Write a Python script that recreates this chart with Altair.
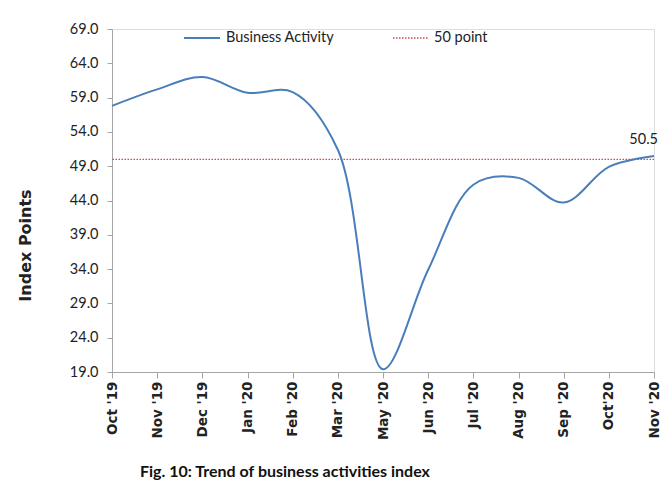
import altair as alt
import pandas as pd

months = ["Oct '19", "Nov '19", "Dec '19", "Jan '20", "Feb '20", "Mar '20",
          "May '20", "Jun '20", "Jul '20", "Aug '20", "Sep '20", "Oct'20", "Nov '20"]
activity = [57.8, 60.2, 62.0, 59.7, 59.8, 51.4, 19.4, 33.9, 46.3, 47.3, 43.7, 48.9, 50.5]
threshold = 50
y_ticks = [19, 24, 29, 34, 39, 44, 49, 54, 59, 64, 69]
series_name = "Business Activity"
threshold_name = "50 point"
caption = "Fig. 10: Trend of business activities index"

df = pd.DataFrame({"month": months, "value": activity})
df["order"] = range(len(df))

BLUE = "#4A7EBB"
RED = "#D04A4A"
CAL = "Lato"

x_scale = alt.Scale(type="point", padding=0)
x_axis = alt.Axis(title=None, labelAngle=-90, labelFont="DejaVu Sans",
                  labelFontWeight="bold", labelFontSize=13.5, labelColor="#222222",
                  tickSize=6, labelPadding=3, domainColor="#A6A6A6",
                  tickColor="#A6A6A6", grid=False, labelOverlap=False)
y_scale = alt.Scale(domain=[19, 69], nice=False, zero=False)
y_axis = alt.Axis(title="Index Points", values=y_ticks, format=".1f",
                  labelFont=CAL, labelFontSize=14.5, labelColor="#222222",
                  tickSize=5, labelPadding=9, domainColor="#A6A6A6",
                  tickColor="#A6A6A6", grid=False, labelOverlap=False,
                  titleFont="DejaVu Sans", titleFontSize=16, titleFontWeight="bold",
                  titleColor="#222222", titleX=-79, titleY=216,
                  titleBaseline="bottom", titleAngle=-90)

base = alt.Chart(df)

line = base.mark_line(color=BLUE, strokeWidth=2, interpolate="catmull-rom").encode(
    x=alt.X("month:N", sort=months, scale=x_scale, axis=x_axis),
    y=alt.Y("value:Q", scale=y_scale, axis=y_axis),
    order="order:Q")

thr = alt.Chart(pd.DataFrame({"value": [threshold]})).mark_rule(
    color=RED, strokeWidth=1.3, strokeDash=[1.5, 1.5]).encode(
    y=alt.Y("value:Q", scale=y_scale, axis=y_axis))

last = base.transform_filter(alt.datum.order == len(months) - 1).mark_text(
    align="right", baseline="middle", dy=-16, dx=4, font=CAL, fontSize=14.5,
    color="#222222").encode(
    x=alt.X("month:N", sort=months, scale=x_scale, axis=x_axis),
    y=alt.Y("value:Q", scale=y_scale, axis=y_axis),
    text=alt.Text("value:Q", format=".1f"))

leg = pd.DataFrame({"a": [0]})
leg_line1 = alt.Chart(leg).mark_rule(color=BLUE, strokeWidth=2).encode(
    x=alt.value(72), x2=alt.value(108), y=alt.value(9))
leg_text1 = alt.Chart(leg).mark_text(align="left", baseline="middle", font=CAL,
                                     fontSize=14.5, color="#222222", text=series_name).encode(
    x=alt.value(114), y=alt.value(9))
leg_line2 = alt.Chart(leg).mark_rule(color=RED, strokeWidth=1.3, strokeDash=[1.5, 1.5]).encode(
    x=alt.value(281), x2=alt.value(316), y=alt.value(9))
leg_text2 = alt.Chart(leg).mark_text(align="left", baseline="middle", font=CAL,
                                     fontSize=14.5, color="#222222", text=threshold_name).encode(
    x=alt.value(322), y=alt.value(9))
cap = alt.Chart(leg).mark_text(align="left", baseline="middle", font=CAL, fontSize=16,
                               fontWeight="bold", color="#111111", text=caption).encode(
    x=alt.value(28), y=alt.value(443))

chart = alt.layer(thr, line, last, leg_line1, leg_text1, leg_line2, leg_text2, cap).properties(
    width=542, height=343,
    padding={"left": 104, "top": 21, "right": 10, "bottom": 110},
    autosize="none",
).configure_view(stroke=None).configure(background="white")

chart.save("out.html", embed_options={"renderer": "svg", "actions": False})
